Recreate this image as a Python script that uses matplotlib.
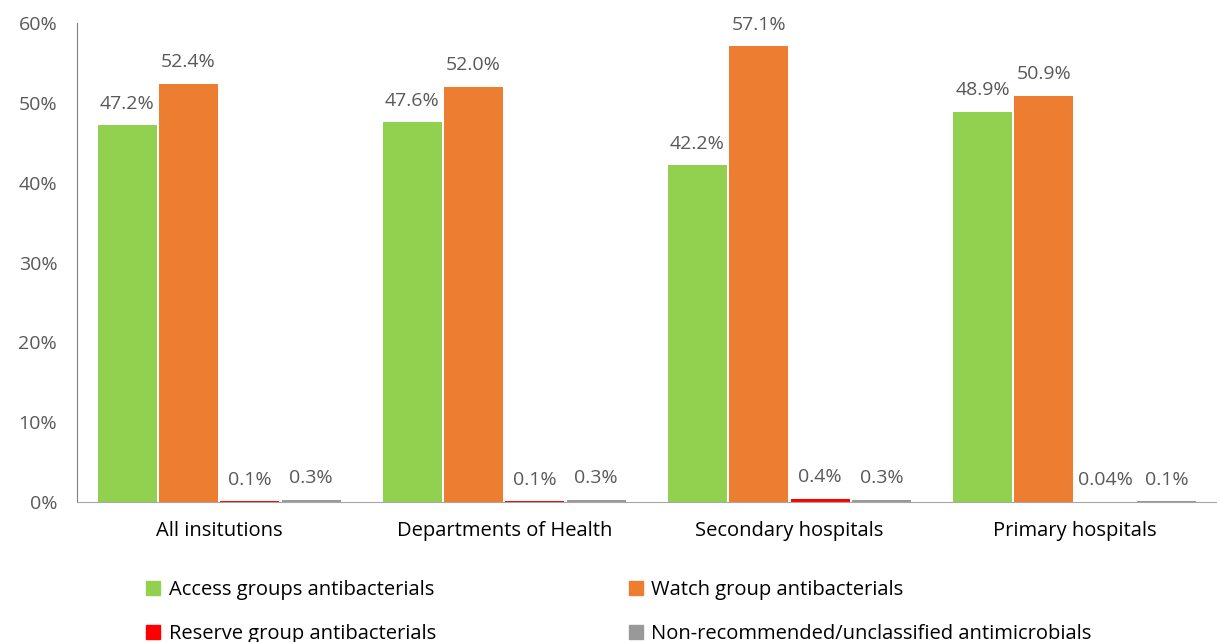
import matplotlib.pyplot as plt
import matplotlib.patches as mpatches
import numpy as np

# data
categories = ['All insitutions', 'Departments of Health', 'Secondary hospitals', 'Primary hospitals']
series_names = ['Access groups antibacterials', 'Watch group antibacterials',
                'Reserve group antibacterials', 'Non-recommended/unclassified antimicrobials']
access = [47.2, 47.6, 42.2, 48.9]
watch = [52.4, 52.0, 57.1, 50.9]
reserve = [0.1, 0.1, 0.4, 0.04]
nonrec = [0.3, 0.3, 0.3, 0.1]
access_labels = ['47.2%', '47.6%', '42.2%', '48.9%']
watch_labels = ['52.4%', '52.0%', '57.1%', '50.9%']
reserve_labels = ['0.1%', '0.1%', '0.4%', '0.04%']
nonrec_labels = ['0.3%', '0.3%', '0.3%', '0.1%']

colors = ['#92D050', '#ED7D31', '#FF0000', '#999999']
font = 'Open Sans'

fig = plt.figure(figsize=(12.17, 6.42), dpi=100)
ax = fig.add_axes([0.063, 0.218, 0.937, 0.746])

x = np.arange(len(categories))
step = 0.215
width = 0.207
offsets = [-1.5, -0.5, 0.5, 1.5]
all_vals = [access, watch, reserve, nonrec]
all_labels = [access_labels, watch_labels, reserve_labels, nonrec_labels]

handles = []
for vals, labs, off, col, name in zip(all_vals, all_labels, offsets, colors, series_names):
    bars = ax.bar(x + off * step, vals, width, color=col, linewidth=0)
    for b, lab in zip(bars, labs):
        ax.annotate(lab, (b.get_x() + b.get_width() / 2, b.get_height()),
                    xytext=(0, 9), textcoords='offset points', ha='center', va='bottom',
                    fontsize=14, color='#595959', family=font)
    handles.append(mpatches.Patch(color=col, label=name))

ax.set_xlim(-0.5, 3.5)
ax.set_ylim(0, 60)
ax.set_yticks(range(0, 61, 10))
ax.set_yticklabels([f'{v}%' for v in range(0, 61, 10)], fontsize=14, color='#595959', family=font)
ax.set_xticks(x)
ax.set_xticklabels(categories, fontsize=14.5, color='black', family=font)
ax.tick_params(axis='both', length=0)
ax.tick_params(axis='x', pad=14)
ax.tick_params(axis='y', pad=14)
for s in ['top', 'right']:
    ax.spines[s].set_visible(False)
ax.spines['left'].set_color('#7F7F7F')
ax.spines['bottom'].set_color('#A6A6A6')

# legend, column-wise order: Access, Reserve | Watch, Non-recommended
order = [0, 2, 1, 3]
fig.legend([handles[i] for i in order], [series_names[i] for i in order],
           ncol=2, loc='upper left', bbox_to_anchor=(0.112, 0.112), frameon=False,
           prop={'family': font, 'size': 14.5}, handlelength=0.7, handleheight=0.7,
           handletextpad=0.4, columnspacing=9.6, labelspacing=1.2, borderpad=0)

fig.savefig('out.png', dpi=100)
